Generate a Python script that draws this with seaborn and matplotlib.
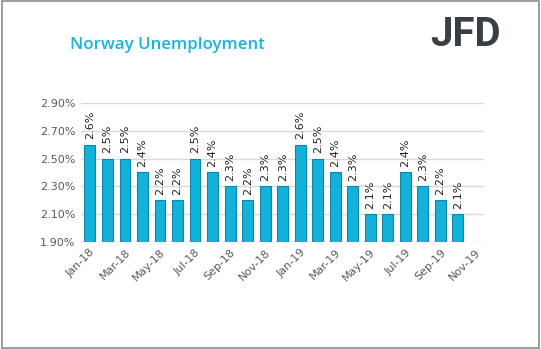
import matplotlib
matplotlib.use("Agg")
import matplotlib.pyplot as plt
import seaborn as sns
import pandas as pd
import numpy as np
from matplotlib.patches import Rectangle

months = ["Jan-18", "Feb-18", "Mar-18", "Apr-18", "May-18", "Jun-18", "Jul-18", "Aug-18",
          "Sep-18", "Oct-18", "Nov-18", "Dec-18", "Jan-19", "Feb-19", "Mar-19", "Apr-19",
          "May-19", "Jun-19", "Jul-19", "Aug-19", "Sep-19", "Oct-19", "Nov-19"]
rates = [2.6, 2.5, 2.5, 2.4, 2.2, 2.2, 2.5, 2.4, 2.3, 2.2, 2.3, 2.3,
         2.6, 2.5, 2.4, 2.3, 2.1, 2.1, 2.4, 2.3, 2.2, 2.1, np.nan]
yticks = [1.9, 2.1, 2.3, 2.5, 2.7, 2.9]

df = pd.DataFrame({"month": months, "rate": rates})

sns.set_theme(style="white")
plt.rcParams['font.family'] = ['DejaVu Sans']

fig = plt.figure(figsize=(5.41, 3.49), dpi=100)
fig.patches.append(Rectangle((0.004, 0.004), 0.992, 0.992, transform=fig.transFigure,
                             fill=False, edgecolor="#8c8c8c", linewidth=1.2))
ax = fig.add_axes([0.15, 0.307, 0.745, 0.398])

sns.barplot(data=df, x="month", y="rate", color="#12b2da", width=0.62, ax=ax,
            edgecolor="#0b88a8", linewidth=0.8, saturation=1, order=months)

ax.set_ylim(1.9, 2.9)
ax.set_yticks(yticks)
ax.set_yticklabels([f"{v:.2f}%" for v in yticks], color="#595959", fontsize=8)
ax.yaxis.grid(True, color="#d9d9d9", linewidth=1)
ax.set_axisbelow(True)
for s in ax.spines.values():
    s.set_visible(False)
ax.tick_params(axis="both", length=0, pad=4)
ax.set_xlabel("")
ax.set_ylabel("")
ax.set_xlim(-0.5, len(months) - 0.5)

ticks = list(range(0, len(months), 2))
ax.set_xticks(ticks)
ax.set_xticklabels([months[i] for i in ticks], rotation=45, ha="right",
                   rotation_mode="anchor", color="#595959", fontsize=8)

for i, v in enumerate(rates):
    if not np.isnan(v):
        ax.annotate(f"{v:.1f}%", (i, v), xytext=(0, 4), textcoords="offset points",
                    rotation=90, ha="center", va="bottom", fontsize=8, color="#222222",
                    annotation_clip=False)

fig.text(0.13, 0.87, "Norway Unemployment", color="#1ab3dc", fontsize=12.2,
         fontweight="semibold", family=["Open Sans", "DejaVu Sans"], va="center")
fig.text(0.925, 0.9, "JFD", color="#3a3f45", fontsize=29, fontweight="bold",
         family=["Roboto", "DejaVu Sans"], ha="right", va="center")

fig.savefig("out.png", dpi=100)
